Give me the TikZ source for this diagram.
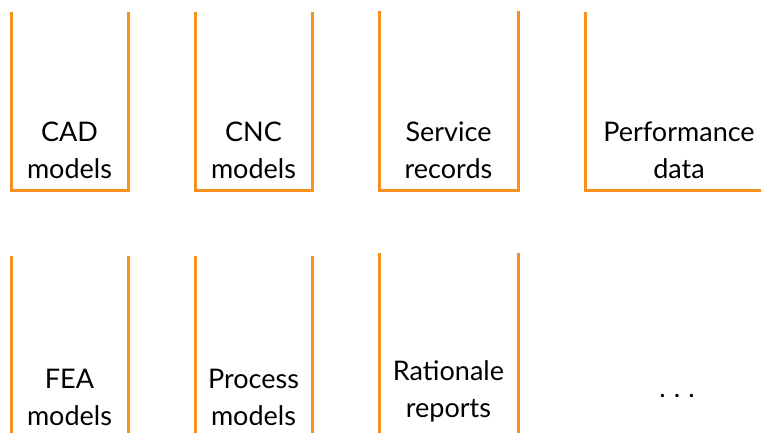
\documentclass[tikz,border=0pt]{standalone}
\usepackage{fontspec}
\setmainfont{Lato}
\usepackage{tikz}
\definecolor{binorange}{RGB}{247,145,30}
\tikzset{
  bin/.style={draw=binorange, line width=3pt},
  binlabel/.style={align=center, anchor=base, inner sep=0pt,
    font=\fontsize{27}{37}\selectfont},
}

\begin{document}
\begin{tikzpicture}[x=1pt, y=-1pt]
\newcommand{\bintop}{12}
\newcommand{\binbot}{190}
\newcommand{\rowshift}{244}
\useasboundingbox (0,0) rectangle (761,432);
\begin{scope}
  \clip (0,0) rectangle (761,432);
  % top row
  \draw[bin] (11,\bintop) |- (128,\binbot) -- (128,\bintop);
  \draw[bin] (195,\bintop) |- (312,\binbot) -- (312,\bintop);
  \draw[bin] (379,11) |- (518,\binbot) -- (518,11);
  \draw[bin] (585,\bintop) |- (775,\binbot) -- (775,\bintop);
  % bottom row, cut off at the lower edge
  \begin{scope}[yshift=-\rowshift pt]
    \draw[bin] (11,\bintop) |- (128,\binbot) -- (128,\bintop);
    \draw[bin] (195,\bintop) |- (312,\binbot) -- (312,\bintop);
    \draw[bin] (379,9) |- (518,\binbot) -- (518,9);
  \end{scope}
\end{scope}
\node[binlabel] (cad) at (69.5,178.5) {CAD\\models};
\node[binlabel] (cnc) at (253.5,178.5) {CNC\\models};
\node[binlabel] (service) at (448.5,178.5) {Service\\records};
\node[binlabel] (perf) at (679,178.5) {Performance\\data};
\node[binlabel] (fea) at (69.5,425) {FEA\\models};
\node[binlabel] (process) at (253.5,425) {Process\\models};
\node[binlabel] (rationale) at (448.5,417) {Rationale\\reports};
\node[binlabel] (more) at (677,397) {.\hspace{0.3em}.\hspace{0.3em}.};
\end{tikzpicture}
\end{document}
